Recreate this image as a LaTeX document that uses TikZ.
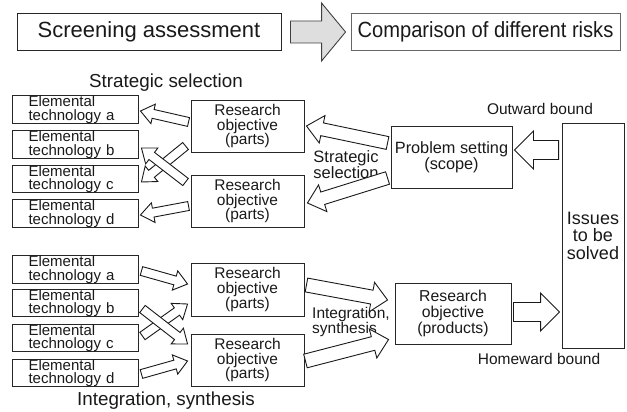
\documentclass[tikz,border=0pt]{standalone}
\usepackage{fontspec}
\usepackage{graphicx}
\setmainfont{Liberation Sans}
\usetikzlibrary{calc}

% Hollow block arrow from tail #2 to tip #3:
% #4 = half shaft width, #5 = half head width, #6 = head length
\newcommand\fatarrow[6][]{%
  \coordinate (fa-t) at (#2);
  \coordinate (fa-h) at (#3);
  \coordinate (fa-b) at ($(fa-h)!#6!(fa-t)$);
  \draw[blockarrow,#1]
    ($(fa-t)!#4!90:(fa-h)$) -- ($(fa-b)!#4!90:(fa-h)$) --
    ($(fa-b)!#5!90:(fa-h)$) -- (fa-h) --
    ($(fa-b)!#5!-90:(fa-h)$) -- ($(fa-b)!#4!-90:(fa-h)$) --
    ($(fa-t)!#4!-90:(fa-h)$) -- cycle;
}

\tikzset{
  box/.style={draw=black!85, line width=0.9pt, inner sep=0pt, align=center,
    text=black!90},
  topbox/.style={box, minimum height=37pt, font=\fontsize{22}{24}\selectfont},
  elem/.style={box, minimum width=126pt, minimum height=27pt, text width=93pt,
    inner xsep=16.5pt, align=left, font=\fontsize{15}{13.6}\selectfont},
  objbox/.style={box, minimum width=113pt, minimum height=52pt,
    font=\fontsize{15.5}{14.6}\selectfont},
  lbl/.style={inner sep=0pt, text=black!90, align=center},
  blockarrow/.style={draw=black!90, line width=0.9pt, fill=white, line join=miter},
  greyarrow/.style={draw=black!75, fill=black!13},
}

\begin{document}
\begin{tikzpicture}[x=1pt, y=-1pt]
\useasboundingbox (0,0) rectangle (627,412);

% top row
\node[topbox, minimum width=264pt] (screen) at (149,31.5) {Screening assessment};
\node[topbox, minimum width=269pt, draw=black!60] (comp) at (485.5,31.5)
  {\scalebox{0.915}[1]{Comparison of different risks}};
\fatarrow[greyarrow]{$(screen.east)+(9,0.5)$}{$(comp.west)+(-5,0.5)$}{11pt}{29pt}{24pt}

% outward bound: elemental technologies
\node[elem] (ea1) at (75,109.5) {Elemental\\technology a};
\node[elem] (eb1) at (75,144.5) {Elemental\\technology b};
\node[elem] (ec1) at (75,179)   {Elemental\\technology c};
\node[elem] (ed1) at (75,213.5) {Elemental\\technology d};

\node[objbox] (ro1) at (247.5,126) {Research\\objective\\(parts)};
\node[objbox] (ro2) at (247.5,201) {Research\\objective\\(parts)};

\node[box, minimum width=121pt, minimum height=62pt,
  font=\fontsize{16.3}{14.8}\selectfont] (pset) at (451.5,157) {Problem setting\\(scope)};

\node[box, minimum width=62pt, minimum height=225pt,
  font=\fontsize{18}{17.5}\selectfont] (issues) at (593,235.5) {Issues\\to be\\solved};

% homeward bound: elemental technologies
\node[elem] (ea2) at (75,269.5) {Elemental\\technology a};
\node[elem] (eb2) at (75,303)   {Elemental\\technology b};
\node[elem] (ec2) at (75,338)   {Elemental\\technology c};
\node[elem] (ed2) at (75,373)   {Elemental\\technology d};

\node[objbox, minimum height=53pt] (ro3) at (247.5,289.5) {Research\\objective\\(parts)};
\node[objbox] (ro4) at (247.5,360) {Research\\objective\\(parts)};

\node[box, minimum width=116pt, minimum height=61pt,
  font=\fontsize{15.8}{16}\selectfont] (prod) at (453,313.5) {Research\\objective\\(products)};

% labels
\node[lbl, font=\fontsize{18.8}{20}\selectfont] (lss) at (166,83) {Strategic selection};
\node[lbl, font=\fontsize{16.5}{15.5}\selectfont] (lss2) at (346,164.5) {Strategic\\selection};
\node[lbl, font=\fontsize{15.5}{16}\selectfont] (lout) at (540,109) {Outward bound};
\node[lbl, align=left, anchor=west, font=\fontsize{15.5}{14.8}\selectfont] (lis2) at (312,322)
  {Integration,\\synthesis};
\node[lbl, font=\fontsize{15.5}{16}\selectfont] (lhome) at (539,359) {Homeward bound};
\node[lbl, font=\fontsize{18.8}{20}\selectfont] (lis) at (166,401) {Integration, synthesis};

% outward bound arrows
\fatarrow{$(issues.west |- pset.east)+(-3,-7)$}{$(pset.east)+(2,-7)$}{9.5pt}{19pt}{19pt}
\fatarrow{$(pset.west)+(-3,-14)$}{$(ro1.east)+(2,0)$}{6.5pt}{14pt}{16pt}
\fatarrow{$(pset.west)+(-3,21)$}{$(ro2.east)+(3,2)$}{6.5pt}{14pt}{16pt}

\fatarrow{$(ro1.west)+(-2,-4)$}{$(ea1.east)+(2,1.5)$}{4.5pt}{10pt}{13pt}
\fatarrow{$(ro1.west)+(-5,20)$}{$(ec1.east)+(3,3)$}{4.5pt}{10pt}{13pt}
\fatarrow{$(ro2.west)+(-5,-19)$}{$(eb1.east)+(3,3.5)$}{4.5pt}{10pt}{13pt}
\fatarrow{$(ro2.west)+(-2,5)$}{$(ed1.east)+(2,1.5)$}{4.5pt}{10pt}{13pt}

% homeward bound arrows
\fatarrow{$(ea2.east)+(3,1.5)$}{$(ro3.west)+(-3,-5.5)$}{4.5pt}{10pt}{13pt}
\fatarrow{$(ec2.east)+(4,-2)$}{$(ro3.west)+(-3,14.5)$}{4.5pt}{10pt}{13pt}
\fatarrow{$(eb2.east)+(4,6)$}{$(ro4.west)+(-3,-16)$}{4.5pt}{10pt}{13pt}
\fatarrow{$(ed2.east)+(3,1)$}{$(ro4.west)+(-3,1)$}{4.5pt}{10pt}{13pt}

\fatarrow{$(ro3.east)+(2,-4.5)$}{$(prod.west)+(-7,-13.5)$}{7pt}{15pt}{16pt}
\fatarrow{$(ro4.east)+(1,1)$}{$(prod.west)+(-6,26)$}{7pt}{15pt}{16pt}

\fatarrow{$(prod.east)+(2,-1.5)$}{$(issues.west |- prod.east)+(-2,-1.5)$}{9.5pt}{19pt}{19pt}
\end{tikzpicture}
\end{document}
